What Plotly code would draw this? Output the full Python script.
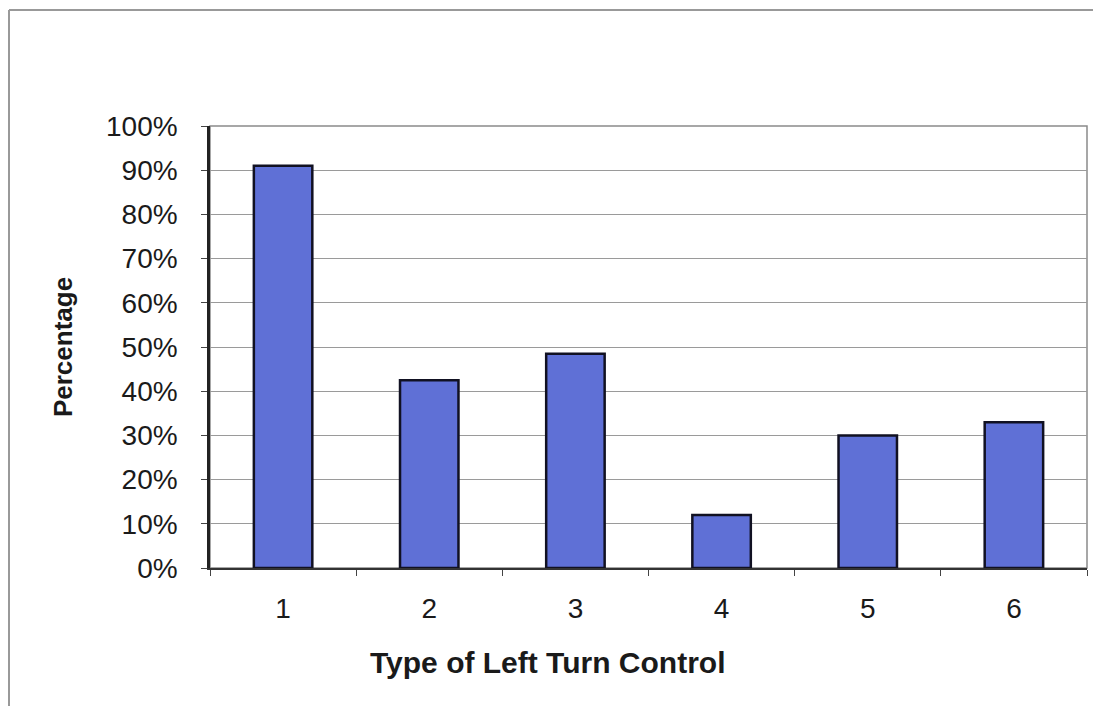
import plotly.graph_objects as go

categories = ["1", "2", "3", "4", "5", "6"]
values = [0.91, 0.425, 0.485, 0.12, 0.30, 0.33]
y_ticks = [0, 0.1, 0.2, 0.3, 0.4, 0.5, 0.6, 0.7, 0.8, 0.9, 1.0]
x_title = "Type of Left Turn Control"
y_title = "Percentage"

OFF = 8  # page body margin
W, H = 1101 - OFF, 706 - OFF
L, R, T, B = 210 - OFF, 14, 126 - OFF, 138
pw, ph = W - L - R, H - T - B

def px_x(x):
    return (x - OFF - L) / pw

def px_y(y):
    return (H - B - (y - OFF)) / ph

fig = go.Figure(go.Bar(
    x=categories, y=values, width=0.4,
    marker=dict(color="#5f70d6", line=dict(color="#111122", width=2.5)),
))

fig.update_layout(
    width=W, height=H,
    margin=dict(l=L, r=R, t=T, b=B),
    paper_bgcolor="white", plot_bgcolor="white",
    showlegend=False,
    font=dict(family="Liberation Sans, Arial, sans-serif", color="#1a1a1a"),
    shapes=[
        dict(type="rect", xref="paper", yref="paper", x0=0, x1=1, y0=0, y1=1,
             line=dict(color="#8a8a8a", width=1.5), layer="below"),
        dict(type="line", xref="paper", yref="paper",
             x0=px_x(OFF + 1), x1=px_x(1101), y0=px_y(10), y1=px_y(10),
             line=dict(color="#999999", width=2)),
        dict(type="line", xref="paper", yref="paper",
             x0=px_x(OFF + 1), x1=px_x(OFF + 1), y0=px_y(10), y1=px_y(706),
             line=dict(color="#999999", width=2)),
    ],
    annotations=[
        dict(text="<b>" + x_title + "</b>", xref="paper", yref="paper",
             x=px_x(548), y=px_y(662), xanchor="center", yanchor="middle",
             showarrow=False, font=dict(size=30, color="#1a1a1a")),
    ],
)

fig.update_xaxes(
    type="category", tickson="boundaries", ticks="outside", ticklen=6,
    tickcolor="#444444", showline=True, linecolor="#333333", linewidth=1.5,
    showgrid=False, tickfont=dict(size=28), ticklabelstandoff=15,
)
fig.update_yaxes(
    range=[0, 1], tickvals=y_ticks, tickformat=".0%", ticks="outside", ticklen=6,
    tickcolor="#444444", showline=True, linecolor="#222222", linewidth=2.5,
    showgrid=True, gridcolor="#9a9a9a", gridwidth=1.2, zeroline=False,
    tickfont=dict(size=28), ticklabelstandoff=18,
    title=dict(text="<b>" + y_title + "</b>", font=dict(size=26), standoff=26),
)

fig.write_html("out.html")
